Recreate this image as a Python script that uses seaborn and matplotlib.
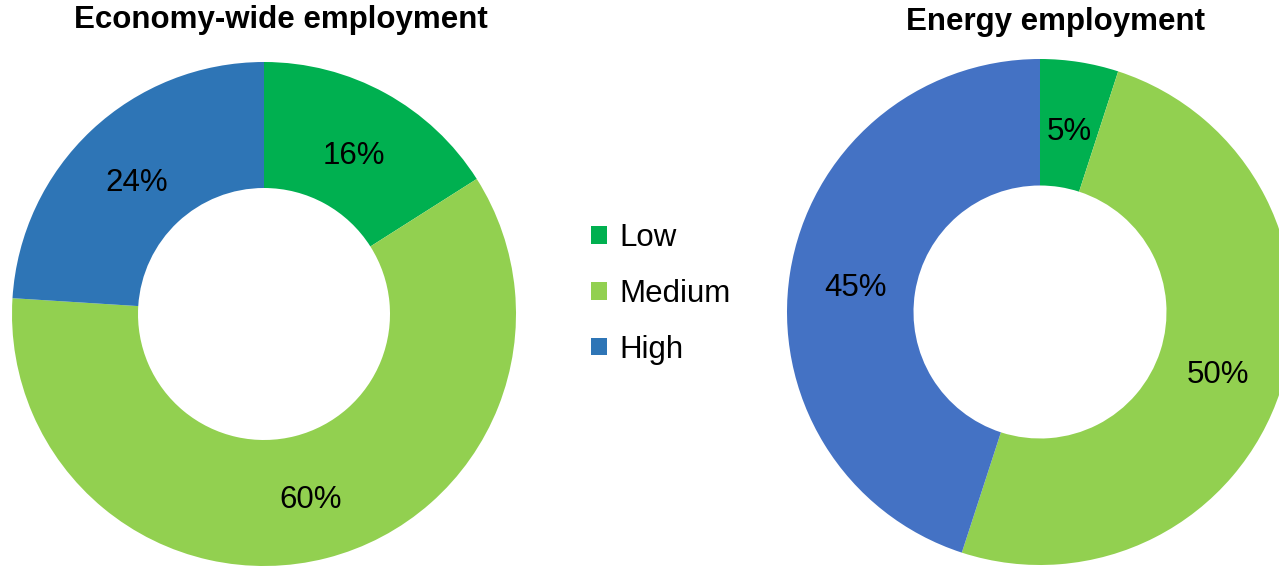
import matplotlib
matplotlib.use("Agg")
import matplotlib.pyplot as plt
from matplotlib.patches import Patch
import seaborn as sns

# data
categories = ["Low", "Medium", "High"]
economy_share = [16, 60, 24]
energy_share = [5, 50, 45]

economy_colors = sns.color_palette(["#00B050", "#92D050", "#2E75B6"])
energy_colors = sns.color_palette(["#00B050", "#92D050", "#4472C4"])

sns.set_theme(style="white")
plt.rcParams["font.family"] = ["Liberation Sans", "DejaVu Sans"]
plt.rcParams["text.color"] = "black"

W, H = 1279, 566
fig = plt.figure(figsize=(W / 100, H / 100), dpi=100)


def donut(ax, values, colors):
    wedges, texts, autotexts = ax.pie(
        values, colors=colors, startangle=90, counterclock=False,
        radius=1.0, pctdistance=0.74,
        autopct=lambda p: f"{p:.0f}%",
        wedgeprops=dict(width=0.5, edgecolor="none"),
        textprops=dict(fontsize=22.5, color="black"))
    # labels sit a touch lower in the original
    for t in autotexts:
        x, y = t.get_position()
        t.set_position((x, y - 0.02))
    ax.set_xlim(-1, 1)
    ax.set_ylim(-1, 1)
    ax.set_aspect("equal")
    ax.axis("off")


# left donut: centre (264, 314 from top), radius 252 px
ax1 = fig.add_axes([12 / W, 0 / H, 504 / W, 504 / H])
donut(ax1, economy_share, economy_colors)

# right donut: centre (1040, 312 from top), radius 253 px
ax2 = fig.add_axes([787 / W, 1 / H, 506 / W, 506 / H])
donut(ax2, energy_share, energy_colors)

fig.text(281 / W, 1 - 20 / H, "Economy-wide employment", ha="center", va="center",
         fontsize=22.5, fontweight="bold", color="black")
fig.text(1055 / W, 1 - 22 / H, "Energy employment", ha="center", va="center",
         fontsize=22.5, fontweight="bold", color="black")

handles = [Patch(facecolor=c, edgecolor="none") for c in economy_colors]
fig.legend(handles, categories, loc="center left", bbox_to_anchor=(591 / W, 1 - 294 / H),
           frameon=False, fontsize=22.5, handlelength=0.5, handleheight=0.5,
           handletextpad=0.4, labelspacing=0.82, labelcolor="black",
           borderpad=0, borderaxespad=0)

fig.savefig("out.png", dpi=100)
